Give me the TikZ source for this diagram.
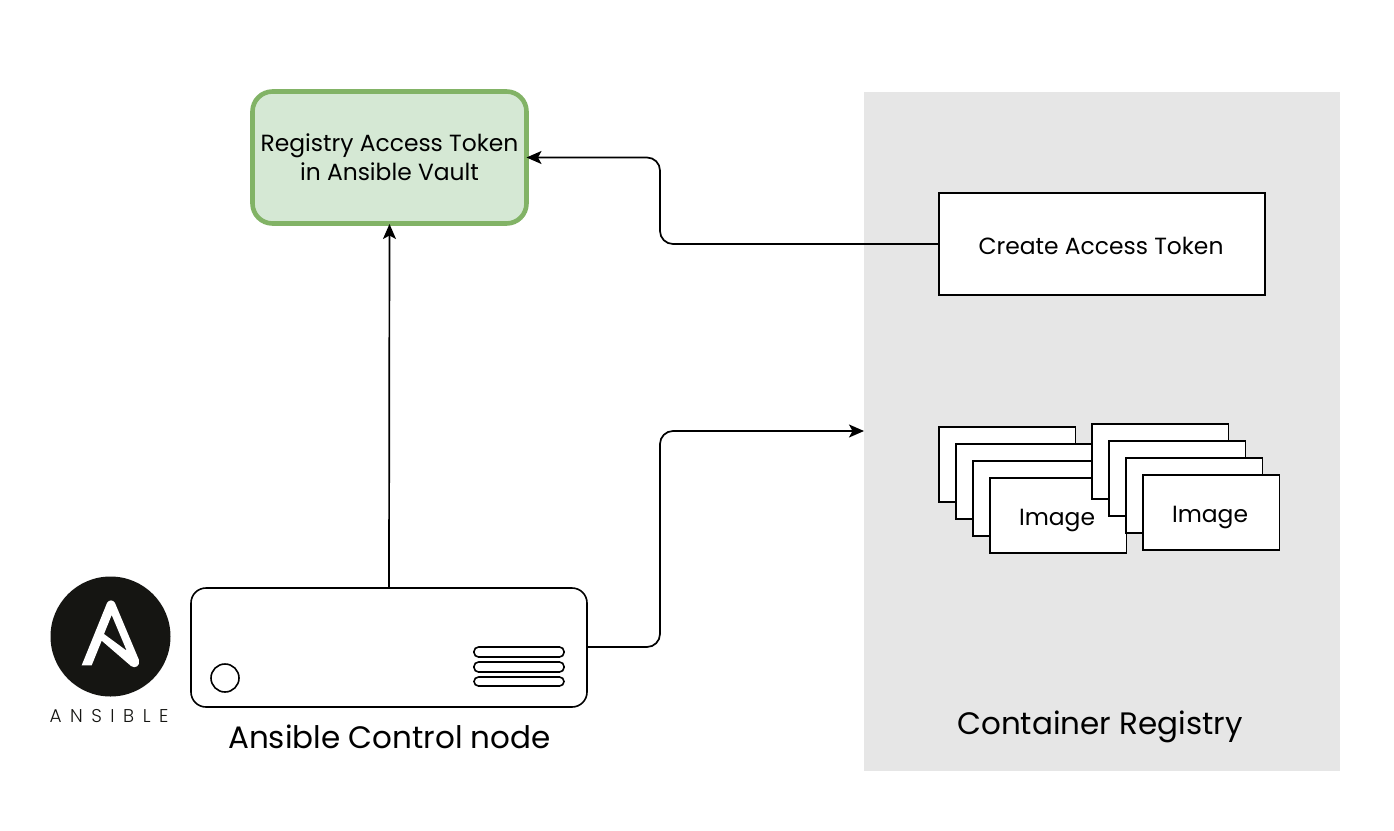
\documentclass[tikz,border=0pt]{standalone}
\usepackage{fontspec}
\setmainfont{Poppins}
\newfontfamily\logofont[LetterSpace=46]{Poppins Light}
\usetikzlibrary{arrows.meta}
\definecolor{regbg}{HTML}{E6E6E6}
\definecolor{vaultfill}{HTML}{D5E8D4}
\definecolor{vaultline}{HTML}{82B366}
\definecolor{logoblack}{HTML}{151512}
\tikzset{
  x=1pt,y=-1pt,
  every node/.style={inner sep=0pt,outer sep=0pt},
  plainbox/.style={draw=black,fill=white,line width=1.6pt,minimum width=136.5pt,minimum height=75pt,anchor=north west},
  wire/.style={draw=black,line width=1.7pt,rounded corners=13pt,-{Stealth[length=15pt,width=13pt,inset=3.5pt]}},
  slot/.style={draw=black,fill=white,line width=1.6pt,rounded corners=4.5pt},
  smalltext/.style={font=\fontsize{23.4}{29}\selectfont,align=center,text=black},
  bigtext/.style={font=\fontsize{31}{36}\selectfont,text=black}
}
\begin{document}
\begin{tikzpicture}
\useasboundingbox (0,0) rectangle (1394,830);
\fill[white] (0,0) rectangle (1394,830);
\node[fill=regbg,minimum width=476pt,minimum height=679pt,anchor=north west] (registry) at (864,92) {};
\node[draw=vaultline,fill=vaultfill,line width=4.6pt,rounded corners=20pt,minimum width=274pt,minimum height=132pt,smalltext] (vault) at (389.5,157.5) {Registry Access Token\\in Ansible Vault};
\node[draw=black,fill=white,line width=1.6pt,minimum width=326pt,minimum height=102pt] (create) at (1102,244) {};
\node[smalltext] (createtext) at (1101,246) {Create Access Token};
% left stack
\node[plainbox] (l1) at (939,427) {};
\node[plainbox] (l2) at (956,444) {};
\node[plainbox] (l3) at (973,461) {};
\node[plainbox] (l4) at (990,478) {};
\node[smalltext] (l4t) at (1057,520.5) {Image};
% right stack
\node[plainbox] (r1) at (1092,424) {};
\node[plainbox] (r2) at (1109,441) {};
\node[plainbox] (r3) at (1126,458) {};
\node[plainbox] (r4) at (1143,475) {};
\node[smalltext] (r4t) at (1210,517.5) {Image};
% server
\node[draw=black,fill=white,line width=1.6pt,rounded corners=15pt,minimum width=396pt,minimum height=119pt,anchor=north west] (server) at (191,588) {};
\node[draw=black,fill=white,line width=1.6pt,circle,minimum size=28pt] (led) at (225,678) {};
\draw[slot] (474,647) rectangle (564,657);
\draw[slot] (474,662) rectangle (564,672);
\draw[slot] (474,677) rectangle (564,686);
\node[bigtext] (serverlabel) at (389.5,737) {Ansible Control node};
\node[bigtext] (registrylabel) at (1100,726.5) {Container Registry};
% logo
\node[fill=logoblack,circle,minimum size=120pt] (logo) at (110.5,636.5) {};
\fill[white,even odd rule]
  (81.7,665.3) -- (107,603) .. controls (109,599.5) and (113,599.5) .. (115,603)
  -- (139,660) .. controls (140.5,666) and (135,669) .. (131,666)
  -- (101.7,640.7) -- (91.7,665.3) -- cycle
  (111.7,615) -- (104,634) -- (126.7,650.7) -- cycle;
\node[font=\fontsize{18.5}{20}\selectfont\logofont,text=logoblack] (logotext) at (109,716) {ANSIBLE};
% connectors
\coordinate (vaultb) at (389.5,224);
\coordinate (servert) at (389,588);
\draw[wire] (servert) -- (vaultb);
\draw[wire] (create.west) -- (660,244) -- (660,157.5) -- (vault.east);
\coordinate (regin) at (864,431);
\draw[wire] (server.east |- 0,647) -- (660,647) -- (660,431) -- (regin);
\end{tikzpicture}
\end{document}
